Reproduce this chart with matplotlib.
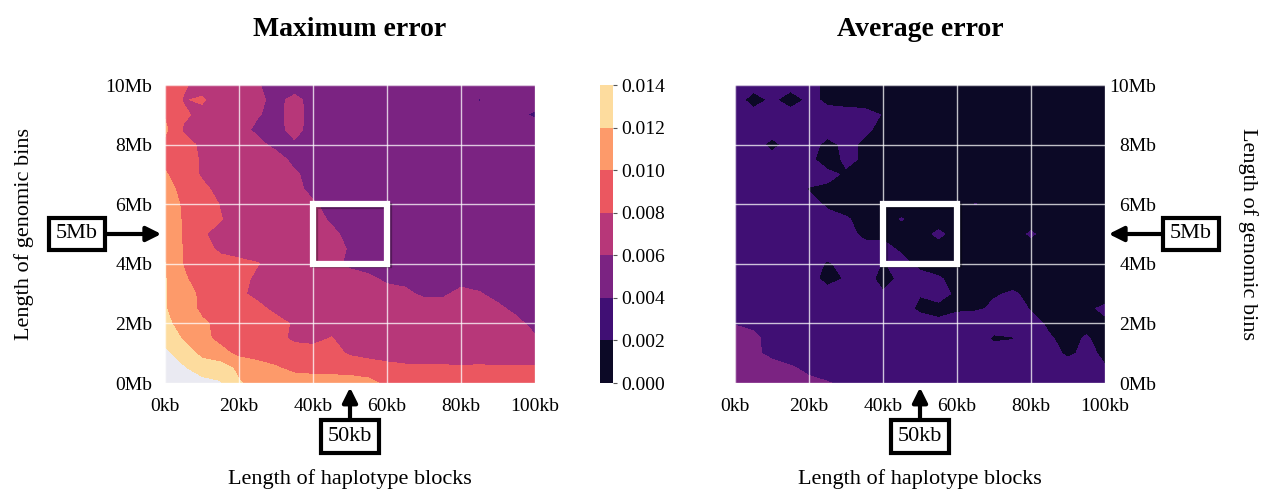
import numpy as np
import matplotlib
matplotlib.use("Agg")
import matplotlib.pyplot as plt
from matplotlib.patches import Rectangle
import matplotlib.patheffects as pe

# ---- data (error values in units of 1e-3) ----
block_kb = [0, 5, 10, 15, 20, 25, 30, 35, 40, 45, 50, 55, 60, 65, 70, 75, 80, 85, 90, 95, 100]
bin_mb = [0, 0.5, 1, 1.5, 2, 2.5, 3, 3.5, 4, 4.5, 5, 5.5, 6, 6.5, 7, 7.5, 8, 8.5, 9, 9.5, 10]

max_error_e3 = [
    [15.5, 15.2, 14.8, 14.2, 12.2, 11.0, 11.0, 11.0, 11.0, 11.0, 11.0, 10.6, 9.5, 9.3, 9.2, 9.1, 9.0, 9.0, 9.0, 9.0, 9.0],
    [15.2, 14.3, 13.0, 13.0, 11.5, 11.0, 10.2, 9.5, 9.3, 9.2, 9.0, 8.8, 8.5, 8.3, 8.3, 8.3, 8.2, 8.3, 8.2, 8.3, 8.3],
    [14.5, 13.0, 11.5, 10.6, 9.5, 9.0, 9.0, 9.0, 9.0, 8.5, 7.8, 7.5, 7.3, 7.2, 7.1, 7.0, 7.0, 7.0, 6.9, 6.8, 6.7],
    [13.3, 11.8, 10.5, 9.5, 9.0, 9.0, 8.6, 7.6, 7.3, 8.1, 7.0, 7.0, 7.0, 7.0, 7.0, 7.0, 7.0, 6.9, 6.8, 6.5, 6.2],
    [12.6, 11.0, 10.3, 9.5, 9.0, 9.0, 8.8, 7.7, 7.4, 7.2, 7.0, 7.0, 7.0, 7.0, 7.0, 7.0, 7.0, 6.9, 6.7, 6.4, 5.5],
    [12.1, 11.0, 9.6, 9.0, 9.0, 8.6, 7.4, 7.2, 7.0, 7.0, 7.0, 7.0, 7.0, 7.0, 6.8, 6.5, 6.6, 6.5, 6.3, 5.6, 5.3],
    [12.1, 11.0, 9.5, 9.0, 8.4, 7.4, 7.2, 7.0, 7.0, 7.0, 7.0, 6.8, 6.6, 6.3, 5.7, 5.8, 6.3, 6.1, 5.5, 5.3, 5.1],
    [12.1, 10.3, 9.0, 9.0, 8.8, 7.5, 7.2, 7.0, 7.0, 7.0, 6.8, 6.3, 5.7, 5.6, 5.5, 5.5, 5.6, 5.4, 5.3, 5.2, 5.1],
    [12.05, 9.9, 9.0, 9.0, 8.5, 8.1, 7.3, 7.0, 7.0, 6.6, 5.6, 5.4, 5.3, 5.2, 5.2, 5.2, 5.2, 5.1, 5.1, 5.1, 5.0],
    [11.5, 9.9, 9.0, 7.5, 7.2, 7.0, 7.0, 7.0, 6.8, 6.4, 5.9, 5.4, 5.3, 5.2, 5.2, 5.2, 5.2, 5.1, 5.1, 5.1, 5.0],
    [11.5, 9.8, 8.2, 7.4, 7.1, 7.0, 7.0, 7.0, 6.6, 6.3, 5.6, 5.4, 5.3, 5.2, 5.2, 5.2, 5.2, 5.1, 5.1, 5.1, 5.0],
    [11.3, 9.8, 9.0, 8.1, 7.2, 7.0, 7.0, 7.0, 6.5, 5.8, 5.5, 5.3, 5.2, 5.2, 5.2, 5.2, 5.2, 5.1, 5.1, 5.1, 5.0],
    [11.2, 9.7, 9.0, 7.9, 7.2, 7.0, 7.0, 7.0, 6.2, 5.5, 5.3, 5.2, 5.2, 5.2, 5.2, 5.1, 5.1, 5.1, 5.1, 5.0, 5.0],
    [10.9, 9.3, 8.4, 7.5, 7.1, 7.0, 7.0, 6.4, 5.6, 5.4, 5.3, 5.2, 5.2, 5.2, 5.1, 5.1, 5.1, 5.1, 5.0, 5.0, 5.0],
    [10.2, 9.0, 7.8, 7.2, 7.0, 7.0, 7.0, 6.2, 5.5, 5.3, 5.2, 5.2, 5.2, 5.1, 5.1, 5.1, 5.1, 5.0, 5.0, 5.0, 5.0],
    [9.5, 8.8, 7.8, 7.2, 7.0, 7.0, 6.6, 5.6, 5.3, 5.2, 5.2, 5.2, 5.1, 5.1, 5.1, 5.1, 5.0, 5.0, 5.0, 5.0, 5.0],
    [9.5, 8.6, 7.7, 7.2, 7.0, 6.4, 5.6, 5.8, 5.4, 5.2, 5.2, 5.1, 5.1, 5.1, 5.1, 5.0, 5.0, 5.0, 5.0, 5.0, 4.9],
    [10.4, 7.8, 7.3, 7.1, 6.5, 5.7, 5.6, 6.4, 5.5, 5.2, 5.1, 5.1, 5.1, 5.1, 5.0, 5.0, 5.0, 5.0, 5.0, 4.9, 4.7],
    [9.8, 8.3, 7.5, 7.1, 6.7, 6.1, 5.6, 6.5, 5.5, 5.2, 5.1, 5.1, 5.0, 5.0, 5.0, 5.0, 5.0, 4.8, 4.6, 4.3, 3.8],
    [9.4, 7.9, 8.2, 7.2, 7.0, 6.3, 5.6, 6.4, 5.5, 5.2, 5.1, 5.1, 5.0, 5.0, 5.0, 5.0, 4.9, 3.9, 4.9, 4.7, 4.5],
    [9.3, 8.2, 7.4, 7.1, 7.0, 6.1, 5.5, 5.3, 5.2, 5.1, 5.1, 5.0, 5.0, 5.0, 5.0, 5.0, 5.0, 5.0, 5.0, 4.9, 4.9],
]

avg_error_e3 = [
    [5.2, 5.0, 4.8, 4.6, 4.4, 4.1, 3.6, 3.3, 3.0, 3.0, 3.0, 3.0, 3.0, 3.0, 3.0, 3.0, 3.0, 3.0, 3.0, 2.8, 2.6],
    [5.0, 4.8, 4.6, 4.2, 3.6, 3.2, 3.0, 3.0, 3.0, 3.0, 3.0, 3.0, 3.0, 3.0, 3.0, 3.0, 3.0, 3.0, 2.8, 2.6, 2.1],
    [4.6, 4.3, 3.6, 3.2, 3.0, 3.0, 3.0, 3.0, 3.0, 3.0, 3.0, 3.0, 3.0, 3.0, 3.0, 3.0, 3.0, 2.6, 1.7, 2.4, 1.7],
    [4.4, 4.3, 3.5, 3.1, 3.0, 3.0, 3.0, 3.0, 3.0, 3.0, 3.0, 3.0, 3.0, 3.0, 1.7, 1.9, 3.0, 2.1, 1.7, 2.1, 1.6],
    [3.95, 3.7, 3.3, 3.0, 3.0, 3.0, 3.0, 3.0, 3.0, 3.0, 2.5, 2.2, 2.6, 3.0, 3.0, 3.0, 2.4, 1.8, 1.6, 1.7, 1.8],
    [3.6, 3.4, 3.1, 3.0, 3.0, 3.0, 3.0, 3.0, 3.0, 2.4, 1.8, 1.7, 1.8, 1.8, 2.2, 2.6, 1.9, 1.6, 1.6, 1.8, 2.2],
    [3.4, 3.2, 3.0, 3.0, 3.0, 3.0, 3.0, 3.0, 2.2, 2.6, 2.05, 2.4, 1.8, 1.7, 1.9, 2.1, 1.8, 1.6, 1.5, 1.5, 1.5],
    [3.3, 3.1, 3.0, 3.0, 2.9, 1.2, 2.2, 3.0, 1.2, 2.5, 2.4, 2.1, 1.7, 1.6, 1.6, 1.6, 1.7, 1.5, 1.5, 1.5, 1.5],
    [3.2, 3.1, 3.0, 3.0, 2.8, 1.8, 2.5, 2.8, 1.9, 2.4, 1.7, 1.6, 1.6, 1.5, 1.5, 1.5, 1.5, 1.5, 1.5, 1.5, 1.5],
    [3.2, 3.1, 3.0, 3.0, 3.0, 2.8, 2.6, 2.3, 2.4, 1.8, 1.7, 1.6, 1.6, 1.5, 1.5, 1.5, 1.5, 1.5, 1.5, 1.5, 1.5],
    [3.1, 3.0, 3.0, 3.0, 2.6, 2.5, 2.3, 1.8, 1.7, 1.6, 1.6, 2.2, 1.6, 1.5, 1.5, 1.5, 2.15, 1.5, 1.5, 1.5, 1.5],
    [3.1, 3.0, 3.0, 2.9, 2.6, 2.4, 2.1, 1.7, 1.6, 2.05, 1.6, 1.5, 1.5, 1.5, 1.5, 1.5, 1.5, 1.5, 1.5, 1.5, 1.5],
    [3.1, 3.0, 2.9, 2.7, 2.5, 1.8, 1.6, 1.6, 1.6, 1.5, 1.5, 1.5, 1.5, 2.03, 1.5, 1.5, 1.5, 1.5, 1.5, 1.5, 1.5],
    [3.1, 3.0, 2.9, 2.6, 1.9, 1.7, 1.6, 1.5, 1.5, 1.5, 1.5, 1.5, 1.5, 1.5, 1.5, 1.5, 1.5, 1.5, 1.5, 1.5, 1.5],
    [3.1, 3.0, 2.9, 2.7, 2.6, 2.4, 1.8, 1.6, 1.5, 1.5, 1.5, 1.5, 1.5, 1.5, 1.5, 1.5, 1.5, 1.5, 1.5, 1.5, 1.5],
    [3.1, 3.0, 2.8, 2.7, 2.4, 1.2, 2.3, 1.8, 1.5, 1.5, 1.5, 1.5, 1.5, 1.5, 1.5, 1.5, 1.5, 1.5, 1.5, 1.5, 1.5],
    [3.1, 3.0, 1.4, 2.8, 2.6, 1.6, 2.3, 1.8, 1.6, 1.5, 1.5, 1.5, 1.5, 1.5, 1.5, 1.5, 1.5, 1.5, 1.5, 1.5, 1.5],
    [3.1, 3.0, 2.9, 2.9, 2.8, 2.6, 2.4, 2.2, 1.7, 1.5, 1.5, 1.5, 1.5, 1.5, 1.5, 1.5, 1.5, 1.5, 1.5, 1.5, 1.5],
    [3.1, 3.0, 3.0, 2.9, 2.8, 2.5, 2.4, 2.3, 1.95, 1.6, 1.5, 1.5, 1.5, 1.5, 1.5, 1.5, 1.5, 1.5, 1.5, 1.5, 1.5],
    [3.1, 1.0, 2.4, 1.0, 2.4, 1.7, 1.6, 1.6, 1.5, 1.5, 1.5, 1.5, 1.5, 1.5, 1.5, 1.5, 1.5, 1.5, 1.5, 1.5, 1.5],
    [3.1, 3.0, 2.9, 2.8, 2.5, 1.6, 1.5, 1.5, 1.5, 1.5, 1.5, 1.5, 1.5, 1.5, 1.5, 1.5, 1.5, 1.5, 1.5, 1.5, 1.5],
]

levels = [0.000, 0.002, 0.004, 0.006, 0.008, 0.010, 0.012, 0.014]
x_ticks = [0, 20, 40, 60, 80, 100]
x_ticklabels = ["0kb", "20kb", "40kb", "60kb", "80kb", "100kb"]
y_ticks = [0, 2, 4, 6, 8, 10]
y_ticklabels = ["0Mb", "2Mb", "4Mb", "6Mb", "8Mb", "10Mb"]
titles = ["Maximum error", "Average error"]
xlabel = "Length of haplotype blocks"
ylabel = "Length of genomic bins"

# ---- style ----
plt.rcParams["font.family"] = ["Liberation Serif", "DejaVu Serif"]
plt.rcParams["axes.facecolor"] = "#EAEAF2"

W, H = 1271, 495
fig = plt.figure(figsize=(W / 100, H / 100), dpi=100)

def fx(px):
    return px / W

def fy(py):
    return 1 - py / H

ax1 = fig.add_axes([fx(165), fy(383), fx(535) - fx(165), fy(85) - fy(383)])
cax = fig.add_axes([fx(600), fy(383), fx(613) - fx(600), fy(85) - fy(383)])
ax2 = fig.add_axes([fx(735), fy(383), fx(1105) - fx(735), fy(85) - fy(383)])

Xg, Yg = np.meshgrid(block_kb, bin_mb)
Z1 = np.array(max_error_e3) * 1e-3
Z2 = np.array(avg_error_e3) * 1e-3

cs1 = ax1.contourf(Xg, Yg, Z1, levels=levels, cmap="magma", vmin=0, vmax=0.014)
cs2 = ax2.contourf(Xg, Yg, Z2, levels=levels, cmap="magma", vmin=0, vmax=0.014)

for ax, title in zip([ax1, ax2], titles):
    ax.set_xlim(0, 100)
    ax.set_ylim(0, 10)
    ax.set_xticks(x_ticks)
    ax.set_xticklabels(x_ticklabels)
    ax.set_yticks(y_ticks)
    ax.set_yticklabels(y_ticklabels)
    ax.tick_params(length=0, labelsize=14)
    ax.tick_params(axis="x", pad=11)
    ax.set_axisbelow(False)
    ax.grid(True, color="white", lw=1.0, alpha=0.75)
    for s in ax.spines.values():
        s.set_visible(False)
    ax.set_title(title, fontsize=20, fontweight="bold", pad=35)
    ax.set_xlabel(xlabel, fontsize=16)
    ax.xaxis.set_label_coords(0.5, -0.29)
    rect = Rectangle((40, 4), 20, 2, fill=False, ec="white", lw=4.5, zorder=5,
                     path_effects=[pe.SimpleLineShadow(offset=(1.2, -1.2), shadow_color="black",
                                                       alpha=0.3),
                                   pe.Normal()])
    ax.add_patch(rect)

ax1.tick_params(axis="y", pad=9)
ax1.set_ylabel(ylabel, fontsize=16)
ax1.yaxis.set_label_coords(-0.355, 0.5)

ax2.yaxis.tick_right()
ax2.yaxis.set_label_position("right")
ax2.tick_params(axis="y", pad=37)
for lab in ax2.get_yticklabels():
    lab.set_horizontalalignment("right")
ax2.set_ylabel(ylabel, fontsize=16, rotation=270, va="bottom")
ax2.yaxis.set_label_coords(1.36, 0.5)

# colorbar
cb = fig.colorbar(cs1, cax=cax, ticks=levels)
cb.outline.set_visible(False)
cb.ax.tick_params(labelsize=14, length=3, width=0.8, color="#555555", pad=3)
cb.ax.set_yticklabels([f"{v:.3f}" for v in levels])

# annotations
box = dict(boxstyle="square,pad=0.3", fc="white", ec="black", lw=3)
arrow = dict(arrowstyle="-|>", lw=3, color="black", mutation_scale=22, shrinkA=0, shrinkB=0)

ax1.annotate("5Mb", xy=(-0.01, 0.5), xycoords="axes fraction",
             xytext=(-0.238, 0.5), textcoords="axes fraction",
             fontsize=16, ha="center", va="center", bbox=box, arrowprops=arrow,
             annotation_clip=False)
ax1.annotate("50kb", xy=(0.5, -0.015), xycoords="axes fraction",
             xytext=(0.5, -0.18), textcoords="axes fraction",
             fontsize=16, ha="center", va="center", bbox=box, arrowprops=arrow,
             annotation_clip=False)
ax2.annotate("5Mb", xy=(1.01, 0.5), xycoords="axes fraction",
             xytext=(1.232, 0.5), textcoords="axes fraction",
             fontsize=16, ha="center", va="center", bbox=box, arrowprops=arrow,
             annotation_clip=False)
ax2.annotate("50kb", xy=(0.5, -0.015), xycoords="axes fraction",
             xytext=(0.5, -0.18), textcoords="axes fraction",
             fontsize=16, ha="center", va="center", bbox=box, arrowprops=arrow,
             annotation_clip=False)

fig.savefig("out.png", dpi=100)
